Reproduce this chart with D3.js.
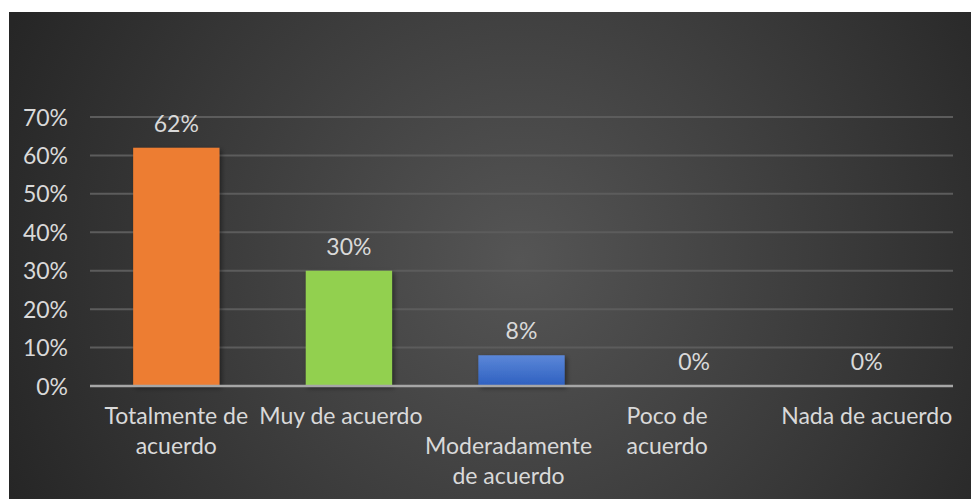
<!DOCTYPE html>
<html><head><meta charset="utf-8">
<script src="https://cdn.jsdelivr.net/npm/d3@7"></script>
<style>
html,body{margin:0;padding:0;background:#fff;}
svg{display:block;}
text{font-family:"Lato","Open Sans",sans-serif;}
</style></head>
<body>
<svg id="chart" width="971" height="499"></svg>
<script>
const categories = ["Totalmente de acuerdo","Muy de acuerdo","Moderadamente de acuerdo","Poco de acuerdo","Nada de acuerdo"];
const categoryLines = [["Totalmente de","acuerdo"],["Muy de acuerdo"],["","Moderadamente","de acuerdo"],["Poco de","acuerdo"],["Nada de acuerdo"]];
const values = [0.62, 0.30, 0.08, 0, 0];
const valueLabels = ["62%","30%","8%","0%","0%"];
const tickValues = [0,0.1,0.2,0.3,0.4,0.5,0.6,0.7];
const tickLabels = ["0%","10%","20%","30%","40%","50%","60%","70%"];
const barColors = ["#ED7D31","#92D050","url(#blueGrad)","#A5A5A5","#FFC000"];

const svg = d3.select("#chart");
const W = 971, H = 499;
const defs = svg.append("defs");
const bg = defs.append("radialGradient").attr("id","bgGrad")
  .attr("gradientUnits","userSpaceOnUse").attr("cx",520).attr("cy",260).attr("r",560);
bg.append("stop").attr("offset","0%").attr("stop-color","#555555");
bg.append("stop").attr("offset","100%").attr("stop-color","#262626");
const bl = defs.append("linearGradient").attr("id","blueGrad").attr("x1",0).attr("y1",0).attr("x2",0).attr("y2",1);
bl.append("stop").attr("offset","0%").attr("stop-color","#5B87D8");
bl.append("stop").attr("offset","100%").attr("stop-color","#2E60C0");
const sh = defs.append("filter").attr("id","shadow").attr("x","-20%").attr("y","-20%").attr("width","150%").attr("height","150%");
sh.append("feDropShadow").attr("dx",2).attr("dy",2).attr("stdDeviation",2.5).attr("flood-color","#000").attr("flood-opacity",0.45);

svg.append("rect").attr("x",9).attr("y",12).attr("width",W-9).attr("height",H-12).attr("fill","url(#bgGrad)");

const plot = {left:90, right:953, top:117, bottom:386};
const x = d3.scaleBand().domain(categories).range([plot.left, plot.right]).paddingInner(0.5).paddingOuter(0.25);
const y = d3.scaleLinear().domain([0,0.7]).range([plot.bottom, plot.top]);

// gridlines
svg.append("g").selectAll("line").data(tickValues.slice(1)).join("line")
  .attr("x1",plot.left).attr("x2",plot.right)
  .attr("y1",d=>y(d)).attr("y2",d=>y(d))
  .attr("stroke","#5c5c5c").attr("stroke-width",2);

// y axis labels
const yAxis = d3.axisLeft(y).tickValues(tickValues).tickFormat((d,i)=>tickLabels[i]).tickSize(0).tickPadding(22);
const ya = svg.append("g").attr("transform",`translate(${plot.left},0)`).call(yAxis);
ya.select(".domain").remove();
ya.selectAll("text").attr("fill","#D9D9D9").style("font-size","23px").attr("dy","0.35em");

// bars
svg.append("g").selectAll("rect").data(values).join("rect")
  .attr("x",(d,i)=>x(categories[i]))
  .attr("width",x.bandwidth())
  .attr("y",d=>y(d))
  .attr("height",d=>y(0)-y(d))
  .attr("fill",(d,i)=>barColors[i])
  .attr("filter","url(#shadow)");

// baseline
svg.append("line").attr("x1",plot.left).attr("x2",plot.right)
  .attr("y1",y(0)).attr("y2",y(0)).attr("stroke","#A6A6A6").attr("stroke-width",2.5);

// value labels
svg.append("g").selectAll("text").data(values).join("text")
  .attr("x",(d,i)=>x(categories[i])+x.bandwidth()/2)
  .attr("y",d=>y(d)-16)
  .attr("text-anchor","middle").attr("fill","#D9D9D9").style("font-size","23px")
  .text((d,i)=>valueLabels[i]);

// category labels (Excel-style wrapped, with slight leftward nudges)
const labelNudge = [0,-8,-13,-27,0];
const xl = svg.append("g");
categoryLines.forEach((lines,i)=>{
  const cx = x(categories[i]) + x.bandwidth()/2 + labelNudge[i];
  lines.forEach((ln,j)=>{
    if(!ln) return;
    xl.append("text").attr("x",cx).attr("y",424 + j*30)
      .attr("text-anchor","middle").attr("fill","#D9D9D9").style("font-size","23px").text(ln);
  });
});
</script>
</body></html>
